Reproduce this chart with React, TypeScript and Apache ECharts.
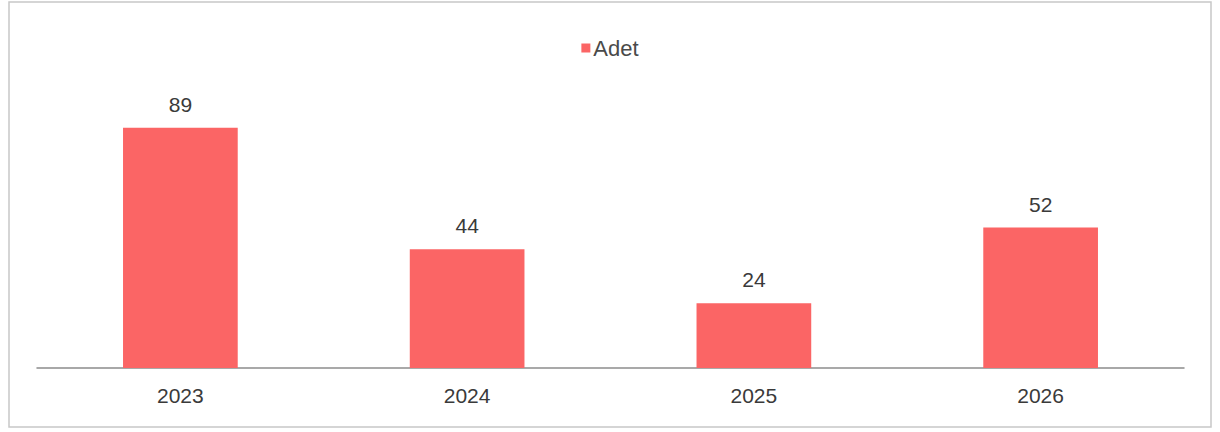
import React, { useEffect, useRef } from "react";
import * as echarts from "echarts";

const categories = ["2023", "2024", "2025", "2026"];
const seriesName = "Adet";
const values = [89, 44, 24, 52];

export default function App() {
  const ref = useRef<HTMLDivElement>(null);
  useEffect(() => {
    if (!ref.current) return;
    const chart = echarts.init(ref.current, undefined, { renderer: "svg" });
    chart.setOption({
      animation: false,
      backgroundColor: "#ffffff",
      textStyle: { fontFamily: "Liberation Sans, Arial, sans-serif" },
      graphic: [
        {
          type: "rect",
          shape: { x: 9, y: 2, width: 1202, height: 425 },
          style: { fill: "none", stroke: "#c8c8c8", lineWidth: 1.5 },
          silent: true,
        },
      ],
      legend: {
        data: [seriesName],
        top: 32,
        left: "center",
        itemWidth: 9,
        itemHeight: 9,
        itemGap: 4,
        icon: "rect",
        textStyle: { fontSize: 22, color: "#4a4a4a", padding: [0, 0, 0, -2] },
      },
      grid: { left: 37, right: 36, top: 98, bottom: 64 },
      xAxis: {
        type: "category",
        data: categories,
        axisLine: { lineStyle: { color: "#8c8c8c", width: 1.5 } },
        axisTick: { show: false },
        axisLabel: { fontSize: 21, color: "#3a3a3a", margin: 17 },
      },
      yAxis: {
        type: "value",
        min: 0,
        max: 100,
        show: false,
        splitLine: { show: false },
      },
      series: [
        {
          name: seriesName,
          type: "bar",
          data: values,
          barWidth: "40%",
          itemStyle: { color: "#fb6565" },
          label: {
            show: true,
            position: "top",
            distance: 13,
            fontSize: 21,
            color: "#3a3a3a",
          },
        },
      ],
    });
    return () => chart.dispose();
  }, []);
  return (
    <div
      ref={ref}
      style={{ position: "absolute", left: 0, top: 0, width: 1220, height: 432 }}
    />
  );
}
